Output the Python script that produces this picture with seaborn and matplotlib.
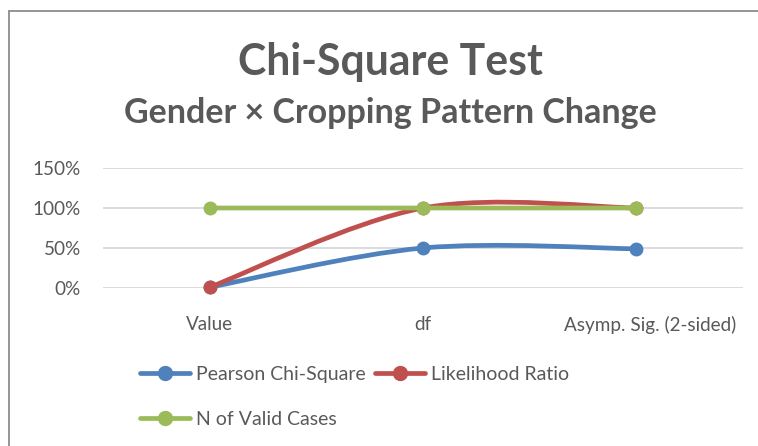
import numpy as np
import pandas as pd
import matplotlib
matplotlib.use("Agg")
import matplotlib.pyplot as plt
import matplotlib.transforms as mtransforms
from matplotlib.path import Path
from matplotlib.patches import PathPatch
from matplotlib.lines import Line2D
from matplotlib.ticker import FuncFormatter
import seaborn as sns

categories = ["Value", "df", "Asymp. Sig. (2-sided)"]
pearson = [0.01, 0.50, 0.49]
likelihood = [0.01, 1.00, 1.00]
valid_cases = [1.00, 1.00, 1.00]
series_names = ["Pearson Chi-Square", "Likelihood Ratio", "N of Valid Cases"]
colors = ["#4F81BD", "#C0504D", "#9BBB59"]
yticks = [0, 0.5, 1.0, 1.5]

sns.set_theme(style="white")
plt.rcParams['font.family'] = ['Lato', 'DejaVu Sans']

df = pd.DataFrame({
    "x": list(range(len(categories))) * 3,
    "y": pearson + likelihood + valid_cases,
    "series": sum([[n] * len(categories) for n in series_names], []),
})

fig = plt.figure(figsize=(7.58, 4.46), dpi=100)
ax = fig.add_axes([103 / 758, (446 - 288) / 446, 640 / 758, 120 / 446])

grey_text = "#595959"
LW = 3.4


def smooth_path(xs, ys):
    pts = np.column_stack([xs, ys]).astype(float)
    n = len(pts)
    verts = [pts[0]]
    codes = [Path.MOVETO]
    for i in range(n - 1):
        p_prev = pts[i - 1] if i > 0 else pts[i]
        p0 = pts[i]
        p1 = pts[i + 1]
        p_next = pts[i + 2] if i + 2 < n else pts[i + 1]
        c1 = p0 + (p1 - p_prev) / 6.0
        c2 = p1 - (p_next - p0) / 6.0
        verts += [c1, c2, p1]
        codes += [Path.CURVE4] * 3
    return Path(verts, codes)


for k, (name, col) in enumerate(zip(series_names, colors)):
    sub = df[df["series"] == name]
    patch = PathPatch(smooth_path(sub["x"].values, sub["y"].values), facecolor="none",
                      edgecolor=col, lw=LW, capstyle="round", joinstyle="round",
                      zorder=3 + 2 * k)
    ax.add_patch(patch)
    sns.scatterplot(data=sub, x="x", y="y", color=col, s=100, edgecolor=col,
                    linewidth=0, ax=ax, zorder=4 + 2 * k, legend=False)

ax.set_xlim(-0.5, 2.5)
ax.set_ylim(0, 1.5)
ax.set_yticks(yticks)
ax.yaxis.set_major_formatter(FuncFormatter(lambda v, p: f"{v*100:.0f}%"))
ax.set_xticks(range(len(categories)))
ax.set_xticklabels(categories)
ax.set_xlabel("")
ax.set_ylabel("")
ax.grid(axis="y", color="#D9D9D9", lw=1.3)
ax.grid(axis="x", visible=False)
for s in ax.spines.values():
    s.set_visible(False)
ax.tick_params(axis="both", length=0, labelsize=13.6, colors=grey_text)
ax.tick_params(axis="y", pad=16)
ax.tick_params(axis="x", pad=20)
for c in ax.collections:
    c.set_clip_on(False)

last_label = ax.get_xticklabels()[-1]
last_label.set_transform(last_label.get_transform() +
                         mtransforms.ScaledTranslation(14 / 100, 0, fig.dpi_scale_trans))

fig.text(390 / 758, 1 - 62 / 446, "Chi-Square Test", ha="center", va="center",
         fontsize=30.8, fontweight="bold", color=grey_text)
fig.text(390 / 758, 1 - 113 / 446, "Gender × Cropping Pattern Change", ha="center",
         va="center", fontsize=24.5, fontweight="bold", color=grey_text)

handles = [Line2D([], [], color=c, lw=LW, marker="o", markersize=10,
                  solid_capstyle="round") for c in colors]
order = [0, 2, 1]
leg = fig.legend([handles[i] for i in order], [series_names[i] for i in order],
                 ncol=2, loc="upper left", bbox_to_anchor=(140 / 758, 1 - 366 / 446),
                 frameon=False, fontsize=14, handlelength=2.57, handletextpad=0.3,
                 columnspacing=0.5, labelspacing=1.43, borderaxespad=0, borderpad=0)
for t in leg.get_texts():
    t.set_color(grey_text)

fig.add_artist(Line2D([9 / 758, 9 / 758], [0, 1 - 11 / 446], color="#8C8C8C", lw=1.3))
fig.add_artist(Line2D([9 / 758, 1], [1 - 11 / 446, 1 - 11 / 446], color="#8C8C8C", lw=1.3))

fig.savefig("out.png", dpi=100)
